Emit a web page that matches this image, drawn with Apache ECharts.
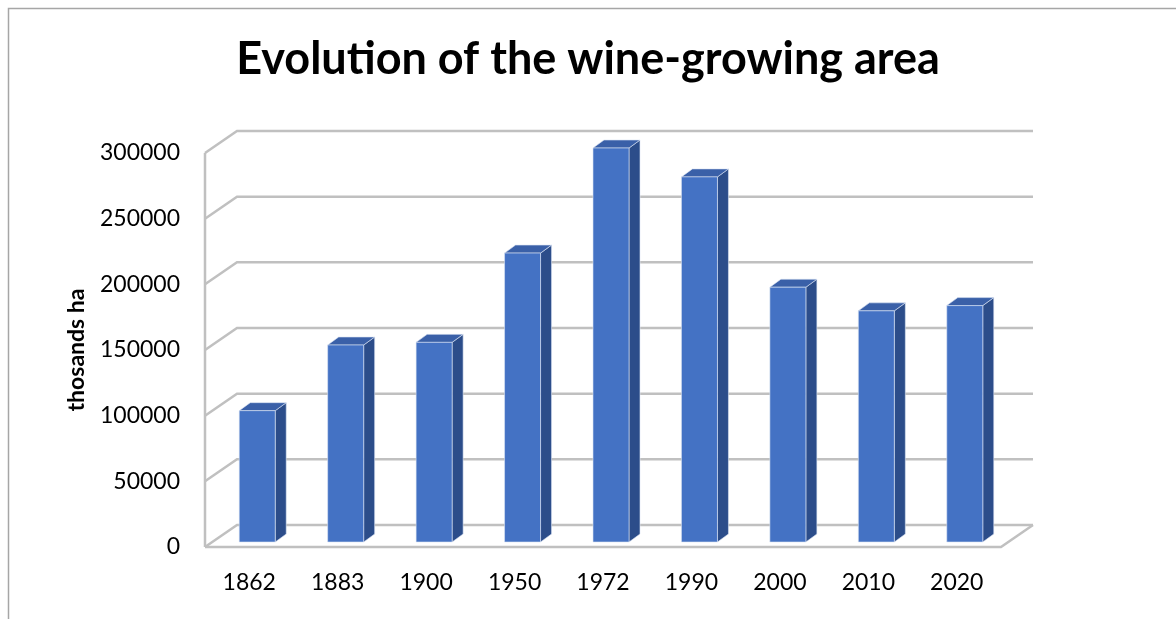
<!DOCTYPE html>
<html>
<head>
<meta charset="utf-8">
<script src="https://cdn.jsdelivr.net/npm/echarts@6/dist/echarts.min.js"></script>
<style>
html,body{margin:0;padding:0;background:#fff;}
#chart{width:1176px;height:619px;}
</style>
</head>
<body>
<div id="chart"></div>
<script>
// ---- data ----
var categories = ['1862', '1883', '1900', '1950', '1972', '1990', '2000', '2010', '2020'];
var areaValues = [100000, 150000, 152000, 220000, 300000, 278000, 194000, 176000, 180000];
var yTicks = [0, 50000, 100000, 150000, 200000, 250000, 300000];

var chartTitle = 'Evolution of the wine-growing area';
var yAxisName = 'thosands ha';

// ---- 3D look (pixel offsets of projection) ----
var DEPTH_X = 32, DEPTH_Y = -22;      // back wall offset
var BAR_SHIFT_X = 8, BAR_SHIFT_Y = -5; // bar front face offset from front plane
var BAR_DX = 11, BAR_DY = -8;          // bar depth
var BAR_W = 36;
var GRID_COLOR = '#c0c0c0';

var chart = echarts.init(document.getElementById('chart'));

function renderWall(params, api) {
  var cs = params.coordSys;
  var x0 = cs.x, x1 = cs.x + cs.width;
  var v = api.value(1);
  var y = api.coord([0, v])[1];
  var style = {stroke: GRID_COLOR, lineWidth: 2.5, fill: null};
  var children = [{
    type: 'polyline',
    shape: {points: [[x0, y], [x0 + DEPTH_X, y + DEPTH_Y], [x1 + DEPTH_X, y + DEPTH_Y]]},
    style: style
  }];
  if (v === 0) {
    children.push({
      type: 'polyline',
      shape: {points: [[x0, y], [x1, y], [x1 + DEPTH_X, y + DEPTH_Y]]},
      style: style
    });
    var yTop = api.coord([0, yTicks[yTicks.length - 1]])[1];
    children.push({
      type: 'line',
      shape: {x1: x0, y1: y, x2: x0, y2: yTop},
      style: style
    });
  }
  return {type: 'group', children: children};
}

function renderBar(params, api) {
  var i = api.value(0);
  var v = api.value(1);
  var pTop = api.coord([i, v]);
  var pBot = api.coord([i, 0]);
  var cx = pTop[0] + BAR_SHIFT_X;
  var yt = pTop[1] + BAR_SHIFT_Y;
  var yb = pBot[1] + BAR_SHIFT_Y;
  var xl = cx - BAR_W / 2, xr = cx + BAR_W / 2;
  return {
    type: 'group',
    children: [
      {
        type: 'polygon',
        shape: {points: [[xr, yt], [xr + BAR_DX, yt + BAR_DY], [xr + BAR_DX, yb + BAR_DY], [xr, yb]]},
        style: {fill: '#2c4d8a', stroke: '#dbe4f3', lineWidth: 0.6}
      },
      {
        type: 'polygon',
        shape: {points: [[xl, yt], [xl + BAR_DX, yt + BAR_DY], [xr + BAR_DX, yt + BAR_DY], [xr, yt]]},
        style: {fill: '#3a60a8', stroke: '#dbe4f3', lineWidth: 0.6}
      },
      {
        type: 'rect',
        shape: {x: xl, y: yt, width: BAR_W, height: yb - yt},
        style: {fill: '#4472c4', stroke: '#dbe4f3', lineWidth: 0.6}
      }
    ]
  };
}

var option = {
  backgroundColor: '#ffffff',
  animation: false,
  title: {
    text: chartTitle,
    left: 'center',
    top: 32,
    textStyle: {fontFamily: 'Lato', fontWeight: 'bold', fontSize: 45, color: '#000'}
  },
  graphic: [{
    type: 'polyline',
    shape: {points: [[8.5, 640], [8.5, 8.5], [1200, 8.5]]},
    style: {stroke: '#a6a6a6', lineWidth: 1.5, fill: null},
    silent: true
  }],
  grid: {left: 205, right: 175, top: 153, bottom: 72},
  xAxis: {
    type: 'category',
    data: categories,
    axisLine: {show: false},
    axisTick: {show: false},
    axisLabel: {fontFamily: 'Lato', fontSize: 23, color: '#000', margin: 24}
  },
  yAxis: {
    type: 'value',
    min: 0,
    max: 300000,
    interval: 50000,
    name: yAxisName,
    nameLocation: 'middle',
    nameGap: 117,
    nameTextStyle: {fontFamily: 'Lato', fontWeight: 'bold', fontSize: 23, color: '#000'},
    axisLine: {show: false},
    axisTick: {show: false},
    splitLine: {show: false},
    axisLabel: {
      fontFamily: 'Lato', fontSize: 23, color: '#000', margin: 25,
      formatter: function (v) { return String(v); }
    }
  },
  series: [
    {
      type: 'custom',
      name: 'walls',
      clip: false,
      silent: true,
      z: 1,
      renderItem: renderWall,
      data: yTicks.map(function (t) { return [0, t]; })
    },
    {
      type: 'custom',
      name: 'area',
      clip: false,
      z: 2,
      renderItem: renderBar,
      data: areaValues.map(function (v, i) { return [i, v]; })
    }
  ]
};
chart.setOption(option);
</script>
</body>
</html>
